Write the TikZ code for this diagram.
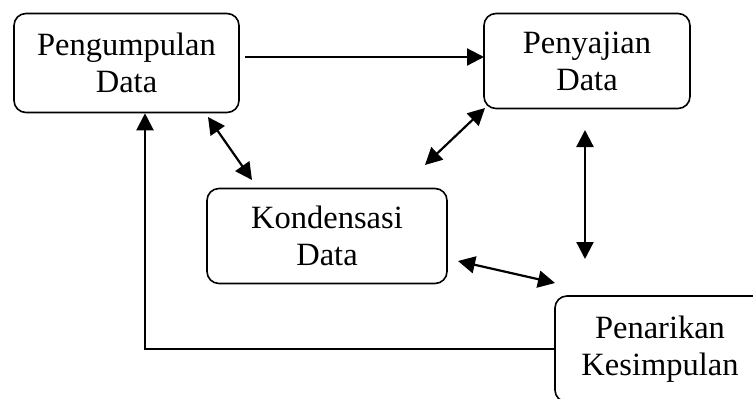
\documentclass[tikz,border=0pt]{standalone}
\usepackage{fontspec}
\setmainfont{Liberation Serif}
\usetikzlibrary{arrows.meta, positioning, calc}

\begin{document}
\begin{tikzpicture}[x=1pt, y=-1pt,
    box/.style={draw, line width=1.6pt, rounded corners=12pt, fill=white, align=center,
        inner sep=0pt, font=\fontsize{32.5}{37}\selectfont},
    link/.style={-{Triangle[length=17pt, width=17pt]}, line width=2.2pt},
    dbl/.style={{Triangle[length=17pt, width=17pt]}-{Triangle[length=17pt, width=17pt]}, line width=2.2pt}
]
\useasboundingbox (0,0) rectangle (753,399);
\clip (0,0) rectangle (753,399);

% Boxes
\node[box, minimum width=225pt, minimum height=99pt] (peng) at (126.5,63) {Pengumpulan\\Data};
\node[box, minimum width=206pt, minimum height=95pt] (peny) at (587,61) {Penyajian\\Data};
\node[box, minimum width=240pt, minimum height=95pt] (kond) at (327,236) {Kondensasi\\Data};
\node[box, minimum width=210pt, minimum height=106pt] (tarik) at (660,349) {Penarikan\\Kesimpulan};

% Free ends of the arrows
\coordinate (h1) at (245,57);
\coordinate (h2) at (484,57);
\coordinate (a1) at (208,117);
\coordinate (a2) at (252,180);
\coordinate (b1) at (485,108);
\coordinate (b2) at (425,165);
\coordinate (c1) at (585,130);
\coordinate (c2) at (585,259);
\coordinate (d1) at (458,261);
\coordinate (d2) at (555,283);

% Arrows
\draw[link] (h1) -- (h2);
\draw[dbl] (a1) -- (a2);
\draw[dbl] (b1) -- (b2);
\draw[dbl] (c1) -- (c2);
\draw[dbl] (d1) -- (d2);

% Feedback line
\draw[link] (tarik.west) -| ([xshift=18.5pt]peng.south);
\end{tikzpicture}
\end{document}
